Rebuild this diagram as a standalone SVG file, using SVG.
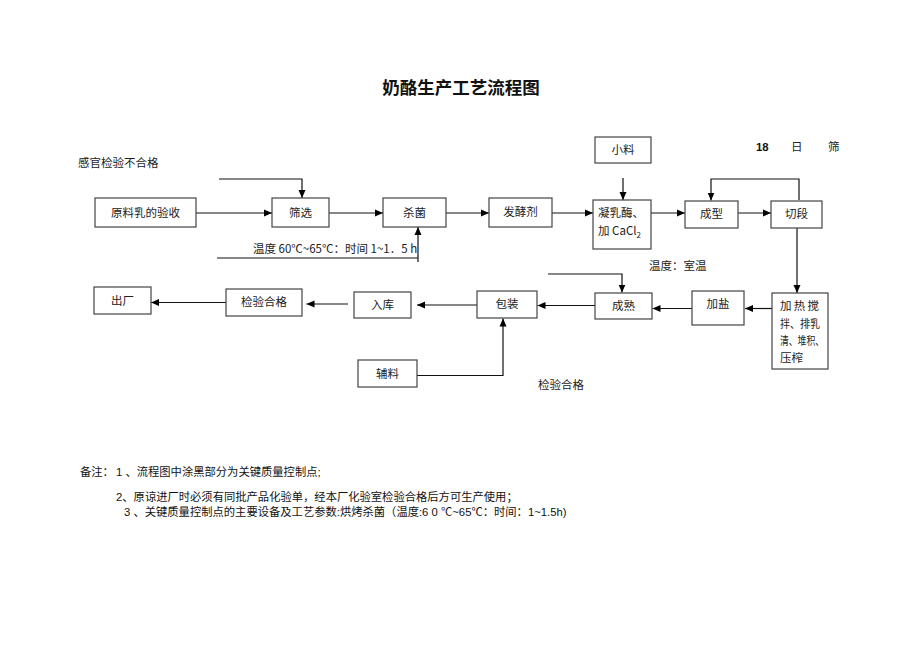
<svg xmlns="http://www.w3.org/2000/svg" width="920" height="651" viewBox="0 0 920 651">
<defs>
<marker id="ah" markerUnits="userSpaceOnUse" markerWidth="9" markerHeight="8" refX="8" refY="4" orient="auto">
<path d="M0,0.5 L8,4 L0,7.5 Z" fill="#000"/>
</marker>
<style>
.box{fill:#fff;stroke:#444;stroke-width:1.2}
.t{font-family:"Noto Sans CJK SC","Liberation Sans",sans-serif;font-size:11.5px;fill:#222}
.n{font-family:"Liberation Sans","Noto Sans CJK SC",sans-serif;font-size:11.3px;fill:#111}
.c{fill:none;stroke:#111;stroke-width:1.2}
.ca{fill:none;stroke:#111;stroke-width:1.2;marker-end:url(#ah)}
</style>
</defs>
<rect width="920" height="651" fill="#fff"/>
<text x="461" y="94" text-anchor="middle" style="font-family:'Noto Sans CJK SC',sans-serif;font-size:17.5px;font-weight:bold;fill:#111">奶酪生产工艺流程图</text>
<text class="t" x="78" y="167">感官检验不合格</text>
<text class="t" x="253" y="253">温度 60℃~65℃：时间 1~1．5 h</text>
<text class="t" x="649" y="270">温度：室温</text>
<text class="t" x="538" y="389">检验合格</text>
<text class="n" x="756" y="151" style="font-weight:bold">18</text>
<text class="t" x="791" y="151">日</text>
<text class="t" x="828" y="151">筛</text>

<g id="connectors">
<path class="ca" d="M196,213 H272"/>
<path class="ca" d="M329,213 H383"/>
<path class="ca" d="M446,213 H489"/>
<path class="ca" d="M552,213 H593"/>
<path class="ca" d="M651,213 H685"/>
<path class="ca" d="M738,213 H771"/>
<path class="ca" d="M219,179 H302 V198"/>
<path class="c" d="M217,258 H418"/>
<path class="ca" d="M418,262 V227"/>
<path class="ca" d="M623,178 V200"/>
<path class="ca" d="M799,200 V179 H711 V200.5"/>
<path class="ca" d="M797,228 V293"/>
<path class="ca" d="M772,308.5 H745"/>
<path class="ca" d="M692,308.5 H652.5"/>
<path class="ca" d="M548,274 H622 V292.5"/>
<path class="ca" d="M595,305.5 H537.5"/>
<path class="ca" d="M477,305 H417"/>
<path class="ca" d="M348,304 H306.5"/>
<path class="ca" d="M226,302.5 H151"/>
<path class="ca" d="M417,375.5 H503 V318.5"/>
</g>

<g id="yuanliaoru"><rect class="box" x="95" y="198" width="101" height="29"/><text class="t" x="145.5" y="217" text-anchor="middle">原料乳的验收</text></g>
<g id="shaixuan"><rect class="box" x="272" y="198" width="57" height="29"/><text class="t" x="300.5" y="217" text-anchor="middle">筛选</text></g>
<g id="shajun"><rect class="box" x="383" y="198" width="63" height="29"/><text class="t" x="414.5" y="217" text-anchor="middle">杀菌</text></g>
<g id="fajiaoji"><rect class="box" x="489" y="198" width="63" height="29"/><text class="t" x="520.5" y="216" text-anchor="middle">发酵剂</text></g>
<g id="xiaoliao"><rect class="box" x="595" y="137" width="56" height="26"/><text class="t" x="623" y="154" text-anchor="middle">小料</text></g>
<g id="ningruomei"><rect class="box" x="593" y="200" width="58" height="49"/><text class="t" x="598" y="217">凝乳酶、</text><text class="t" x="598" y="235">加 CaCl<tspan font-size="8" dy="3">2</tspan></text></g>
<g id="chengxing"><rect class="box" x="685" y="201" width="53" height="27"/><text class="t" x="711.5" y="218" text-anchor="middle">成型</text></g>
<g id="qieduan"><rect class="box" x="771" y="201" width="51" height="27"/><text class="t" x="796.5" y="218" text-anchor="middle">切段</text></g>
<g id="jiare"><rect class="box" x="772" y="293" width="56" height="76"/>
<text class="t" x="780" y="310" textLength="39" lengthAdjust="spacing">加 热 搅</text>
<text class="t" x="780" y="327.5" textLength="40" lengthAdjust="spacingAndGlyphs">拌、排乳</text>
<text class="t" x="780" y="345" textLength="44" lengthAdjust="spacingAndGlyphs">清、堆积、</text>
<text class="t" x="780" y="362">压榨</text></g>
<g id="jiayan"><rect class="box" x="692" y="291" width="52" height="34"/><text class="t" x="718" y="308" text-anchor="middle">加盐</text></g>
<g id="chengshu"><rect class="box" x="595" y="293" width="57" height="26"/><text class="t" x="623.5" y="310" text-anchor="middle">成熟</text></g>
<g id="baozhuang"><rect class="box" x="477" y="291" width="60" height="27"/><text class="t" x="507" y="308" text-anchor="middle">包装</text></g>
<g id="ruku"><rect class="box" x="354" y="292" width="57" height="26"/><text class="t" x="382.5" y="309" text-anchor="middle">入库</text></g>
<g id="jianyan"><rect class="box" x="226" y="289" width="76" height="27"/><text class="t" x="264" y="306" text-anchor="middle">检验合格</text></g>
<g id="chuchang"><rect class="box" x="94" y="287" width="57" height="27"/><text class="t" x="122.5" y="305" text-anchor="middle">出厂</text></g>
<g id="fuliao"><rect class="box" x="358" y="360" width="59" height="27"/><text class="t" x="387.5" y="378" text-anchor="middle">辅料</text></g>

<g id="notes">
<text class="n" x="80" y="475.5">备注：</text>
<text class="n" x="116" y="475.5">1 、流程图中涂黑部分为关键质量控制点;</text>
<text class="n" x="116" y="500.5">2、原谅进厂时必须有同批产品化验单，经本厂化验室检验合格后方可生产使用；</text>
<text class="n" x="124" y="516">3 、关键质量控制点的主要设备及工艺参数:烘烤杀菌（温度:6 0 ℃~65℃：时间：1~1.5h)</text>
</g>
</svg>
